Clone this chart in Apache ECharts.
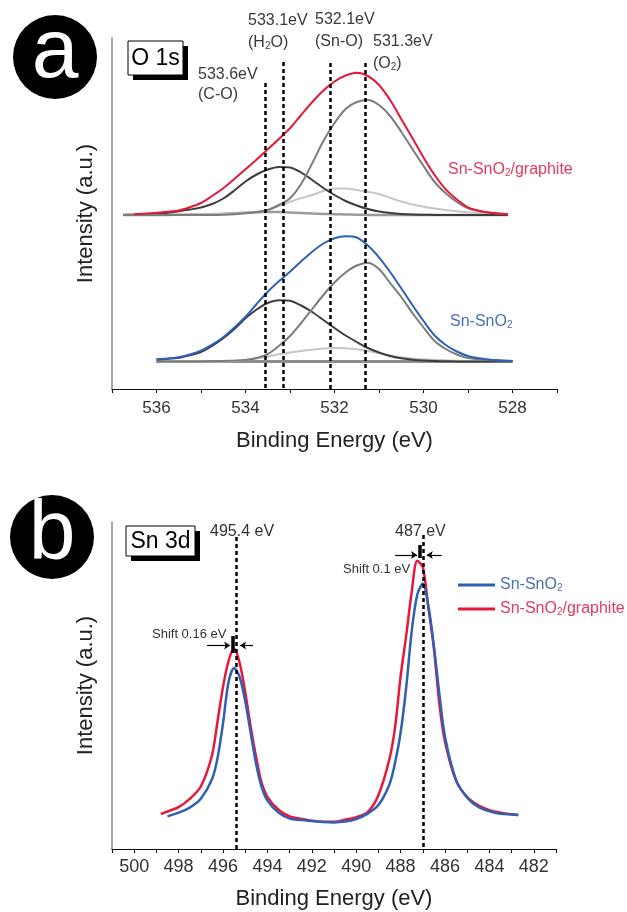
<!DOCTYPE html>
<html>
<head>
<meta charset="utf-8">
<title>XPS O 1s / Sn 3d</title>
<script src="https://cdn.jsdelivr.net/npm/echarts@6/dist/echarts.min.js"></script>
<style>
html, body { margin: 0; padding: 0; background: #fff; }
#main { width: 627px; height: 912px; }
</style>
</head>
<body>
<div id="main"></div>
<script>
// (a) O 1s - Sn-SnO2/graphite (upper set)
var energyA = [536.75, 536.5, 536.25, 536, 535.75, 535.5, 535.25, 535, 534.75, 534.5, 534.25, 534, 533.75, 533.5, 533.25, 533, 532.75, 532.5, 532.25, 532, 531.75, 531.5, 531.25, 531, 530.75, 530.5, 530.25, 530, 529.75, 529.5, 529.25, 529, 528.75, 528.5, 528.1];
var graphiteEnvelope = [null, 174.8, 175.4, 176.2, 177.2, 178.5, 181.8, 186, 193, 200.7, 210, 219.7, 229.5, 239.7, 250, 260.7, 274, 287, 298.5, 307.5, 313.5, 316.3, 313, 304, 289, 270, 251, 231.5, 214, 199.7, 189.5, 181.7, 178.3, 176.3, 174.8];
var graphiteO2 = [174, 174, 174, 174, 174, 174, 174, 174, 174.1, 174.3, 174.8, 175.7, 177, 179, 184, 190.7, 205, 225.7, 248, 266, 280, 287, 289, 284, 273, 257.3, 240, 223, 207, 195.7, 187, 180.7, 178, 176.3, 174.7];
var graphiteH2O = [174, 174.3, 174.6, 175, 176.2, 177.8, 179.5, 181.5, 185, 190.5, 198.5, 207.5, 214.5, 219.5, 222, 221.5, 216.5, 209, 201, 194, 188, 183.5, 180, 177.5, 176, 175, 174.5, 174.3, 174.1, 174, 174, 174, 174, 174, 174];
var graphiteSnO = [174.5, 174.5, 174.5, 174.5, 174.5, 174.5, 174.6, 174.7, 174.8, 175, 175.4, 176, 177.3, 179, 183, 187.3, 190.8, 194, 198, 200.5, 200.5, 199, 197.2, 195, 191.3, 187.5, 184.5, 182.3, 180.5, 179, 177.8, 176.7, 176, 175.3, 174.8];
var graphiteCO = [174, 174, 174, 174, 174.1, 174.2, 174.4, 174.6, 174.9, 175.3, 175.8, 176.3, 176.8, 177, 176.9, 176.5, 176, 175.5, 175.1, 174.8, 174.5, 174.3, 174.1, 174, 174, 174, 174, 174, 174, 174, 174, 174, 174, 174, 174];

// (a) O 1s - Sn-SnO2 (lower set)
var energyB = [536, 535.75, 535.5, 535.25, 535, 534.75, 534.5, 534.25, 534, 533.75, 533.5, 533.25, 533, 532.75, 532.5, 532.25, 532, 531.75, 531.5, 531.25, 531, 530.75, 530.5, 530.25, 530, 529.75, 529.5, 529.25, 529, 528.75, 528.5, 528.25, 528];
var pureEnvelope = [29.7, 30.5, 31.7, 34.5, 38.3, 44.3, 51.7, 61.5, 72.3, 85, 97.3, 107.8, 117.3, 127.5, 137.3, 145.5, 150.8, 152.8, 151.5, 143.5, 131.7, 117, 100.7, 84, 68, 53.5, 44, 37.5, 33, 30.8, 29.3, 28.5, 28];
var pureO2 = [27.5, 27.5, 27.5, 27.5, 27.6, 27.8, 28, 28.4, 29, 31, 35, 43, 53, 66, 80, 94, 106.5, 116.5, 123.5, 126.3, 120, 106, 92, 76, 61.5, 48, 40, 34.5, 31, 29.8, 29, 28.4, 28];
var pureH2O = [29.3, 30.2, 31.3, 33.8, 37, 43, 50.7, 60, 70.7, 79.5, 86, 88.8, 88.3, 83.5, 77, 69, 61, 53.5, 47, 41, 36.5, 33, 30.7, 29.2, 28.5, 28, 27.8, 27.6, 27.5, 27.5, 27.5, 27.5, 27.5];
var pureSnO = [27.5, 27.5, 27.5, 27.5, 27.5, 27.5, 27.6, 28, 29, 30.5, 32.5, 34.8, 36.5, 38, 39.3, 40.4, 41, 40.8, 39.8, 38, 35.8, 33.5, 31.7, 30.5, 29.7, 29.2, 28.7, 28.3, 28, 27.8, 27.6, 27.5, 27.5];
var pureBase = [27.5, 27.5, 27.5, 27.5, 27.5, 27.5, 27.5, 27.5, 27.5, 27.5, 27.5, 27.5, 27.5, 27.5, 27.5, 27.5, 27.5, 27.5, 27.5, 27.5, 27.5, 27.5, 27.5, 27.5, 27.5, 27.5, 27.5, 27.5, 27.5, 27.5, 27.5, 27.5, 27.5];

// peak positions (eV) marked in (a)
var o1sPeaks = [533.55, 533.15, 532.1, 531.3];
var o1sPeakTops = [306, 327, 326, 326];

// (b) Sn 3d
var sn3dEnergy = [498.8, 498.5, 498, 497.5, 497, 496.5, 496.25, 496, 495.75, 495.5, 495.25, 495, 494.75, 494.5, 494.25, 494, 493.5, 493, 492.5, 492, 491.5, 491, 490.5, 490, 489.5, 489, 488.5, 488.25, 488, 487.75, 487.5, 487.25, 487, 486.75, 486.5, 486.25, 486, 485.5, 485, 484.5, 484, 483.5, 483, 482.7];
var sn3dGraphite = [35, 37.5, 41.8, 50.1, 62.5, 93.3, 127, 162.1, 188, 200.5, 186, 157, 121.7, 91, 65.4, 52.2, 39.2, 32.5, 30.3, 28.2, 27.3, 27.3, 29.3, 31.8, 36.5, 53.8, 90.3, 121.6, 172.6, 213.1, 256.9, 288.2, 282, 241.6, 200.5, 144.5, 107.2, 68.1, 51.8, 43.6, 38.9, 36.3, 34.7, 34];
var sn3dPure = [null, 32.6, 36.3, 41.4, 50.3, 69.5, 90.6, 125.5, 167, 181, 172, 148, 115.6, 84.1, 61.3, 48.4, 36.4, 30.4, 29.1, 27.9, 27, 26.6, 27.4, 29.9, 35.1, 43.9, 64.8, 86.2, 116.2, 161, 217.9, 254.3, 265.5, 243.2, 202.9, 154.3, 112.3, 68.9, 51.4, 42.1, 37.8, 35.3, 34.5, 34];
var sn3dPeaks = [495.4, 487];
var sn3dPeakTops = [312, 314];

var FONT = 'Liberation Sans, Arial, sans-serif';
var RED = '#e8173a', BLUE = '#2e60b3';
var subRich = { sub: { fontSize: 10, verticalAlign: 'bottom', padding: [7, 0, 0, 0] } };

function pairs(xs, ys) {
	var out = [];
	for (var i = 0; i < xs.length; i++) {
		if (ys[i] != null) out.push([xs[i], ys[i]]);
	}
	return out;
}

function curve(name, xs, ys, color, width, idx, smooth) {
	return {
		name: name,
		type: 'line',
		xAxisIndex: idx,
		yAxisIndex: idx,
		data: pairs(xs, ys),
		smooth: smooth,
		symbol: 'none',
		silent: true,
		lineStyle: { color: color, width: width },
		itemStyle: { color: color }
	};
}

function xAxisOf(idx, min, max, fontSize, margin, nameGap) {
	return {
		type: 'value',
		gridIndex: idx,
		min: min,
		max: max,
		interval: 1,
		inverse: true,
		name: 'Binding Energy (eV)',
		nameLocation: 'middle',
		nameGap: nameGap,
		nameTextStyle: { fontSize: 22, color: '#222', fontFamily: FONT },
		axisLine: { show: true, onZero: false, lineStyle: { color: '#111', width: 1.2 } },
		axisTick: { show: true, length: 4, lineStyle: { color: '#111', width: 1 } },
		axisLabel: {
			fontSize: fontSize, color: '#333', fontFamily: FONT, margin: margin,
			formatter: function(v) { return v % 2 === 0 ? String(v) : ''; }
		},
		splitLine: { show: false }
	};
}

function yAxisOf(idx, max) {
	return {
		type: 'value',
		gridIndex: idx,
		min: 0,
		max: max,
		name: 'Intensity (a.u.)',
		nameLocation: 'middle',
		nameGap: 15,
		nameTextStyle: { fontSize: 22, color: '#222', fontFamily: FONT },
		axisLine: { show: true, lineStyle: { color: '#888', width: 1.5 } },
		axisTick: { show: false },
		axisLabel: { show: false },
		splitLine: { show: false }
	};
}

var dashStyle = { color: '#000', width: 2.5, type: [4, 3] };

var series = [
	curve('base-g', energyA, graphiteCO, '#9a9a9a', 2.5, 0, 0.3),
	curve('SnO-g', energyA, graphiteSnO, '#c6c6c6', 2, 0, 0.3),
	curve('H2O-g', energyA, graphiteH2O, '#3d3d3d', 2, 0, 0.3),
	curve('O2-g', energyA, graphiteO2, '#7c7c7c', 2, 0, 0.3),
	curve('base-p', energyB, pureBase, '#8c8c8c', 3, 0, 0),
	curve('SnO-p', energyB, pureSnO, '#c6c6c6', 2, 0, 0.3),
	curve('H2O-p', energyB, pureH2O, '#3d3d3d', 2, 0, 0.3),
	curve('O2-p', energyB, pureO2, '#7c7c7c', 2, 0, 0.3),
	curve('O1s Sn-SnO2', energyB, pureEnvelope, BLUE, 2, 0, 0.3),
	curve('O1s Sn-SnO2/graphite', energyA, graphiteEnvelope, RED, 2, 0, 0.3),
	curve('Sn-SnO2/graphite', sn3dEnergy, sn3dGraphite, RED, 2.5, 1, 0.3),
	curve('Sn-SnO2', sn3dEnergy, sn3dPure, BLUE, 2.5, 1, 0.3)
];

// dashed peak lines in (a)
series[9].markLine = {
	silent: true, symbol: 'none', label: { show: false }, lineStyle: dashStyle,
	data: o1sPeaks.map(function(e, i) { return [{ coord: [e, o1sPeakTops[i]] }, { coord: [e, 0] }]; })
};
// dashed peak lines in (b)
series[10].markLine = {
	silent: true, symbol: 'none', label: { show: false }, lineStyle: dashStyle,
	data: sn3dPeaks.map(function(e, i) { return [{ coord: [e, sn3dPeakTops[i]] }, { coord: [e, 0] }]; })
};
// shift arrows in (b)
var arrowLine = { color: '#000', width: 1.2, type: 'solid' };
var barLine = { color: '#000', width: 3.5, type: 'solid' };
series[11].markLine = {
	silent: true, symbol: ['none', 'arrow'], symbolSize: 6, label: { show: false }, lineStyle: arrowLine,
	data: [
		[{ coord: [496.72, 203.5] }, { coord: [495.68, 203.5] }],
		[{ coord: [494.65, 203.5] }, { coord: [495.23, 203.5] }],
		[{ coord: [495.57, 213], symbol: 'none', lineStyle: barLine }, { coord: [495.57, 196], symbol: 'none' }],
		[{ coord: [488.25, 294] }, { coord: [487.26, 294] }],
		[{ coord: [486.15, 294] }, { coord: [486.82, 294] }],
		[{ coord: [487.15, 304], symbol: 'none', lineStyle: barLine }, { coord: [487.15, 291], symbol: 'none' }]
	]
};

function label(x, y, text, color, size) {
	return {
		type: 'text', x: x, y: y, silent: true,
		style: {
			text: text, fill: color || '#3a3a3a', fontSize: size || 16, fontFamily: FONT,
			align: 'left', verticalAlign: 'middle', rich: subRich
		}
	};
}

function badge(cx, cy, letter, ty) {
	return [
		{ type: 'circle', shape: { cx: cx, cy: cy, r: 42 }, style: { fill: '#000' }, silent: true },
		{ type: 'text', x: cx, y: ty, silent: true,
			style: { text: letter, fill: '#fff', fontSize: 84, fontFamily: FONT, align: 'center', verticalAlign: 'middle' } }
	];
}

function box(x, y, w, h, text) {
	return [
		{ type: 'rect', shape: { x: x + 5, y: y + 5, width: w, height: h }, style: { fill: '#000' }, silent: true },
		{ type: 'rect', shape: { x: x, y: y, width: w, height: h }, style: { fill: '#fff', stroke: '#000', lineWidth: 1 }, silent: true },
		{ type: 'text', x: x + w / 2, y: y + h / 2 + 1, silent: true,
			style: { text: text, fill: '#000', fontSize: 23, fontFamily: FONT, align: 'center', verticalAlign: 'middle' } }
	];
}

var graphics = [].concat(
	badge(55, 57, 'a', 54),
	badge(52, 537, 'b', 536),
	box(128, 41, 55, 34, 'O 1s'),
	box(126, 526, 69, 30, 'Sn 3d'),
	[
		label(248, 21, '533.1eV'),
		label(248, 43, '(H{sub|2}O)'),
		label(315, 20, '532.1eV'),
		label(315, 42, '(Sn-O)'),
		label(373, 42, '531.3eV'),
		label(373, 64, '(O{sub|2})'),
		label(198, 75, '533.6eV'),
		label(198, 95, '(C-O)'),
		label(448, 170, 'Sn-SnO{sub|2}/graphite', '#e23a5c'),
		label(450, 322, 'Sn-SnO{sub|2}', '#4a6fb5'),
		label(210, 532, '495.4 eV', '#333', 16),
		label(395, 532, '487 eV', '#333', 16),
		label(152, 634, 'Shift 0.16 eV', '#333', 13),
		label(343, 569, 'Shift 0.1 eV', '#333', 13)
	]
);

var chart = echarts.init(document.getElementById('main'), null, { renderer: 'canvas' });
chart.setOption({
	animation: false,
	backgroundColor: '#fff',
	textStyle: { fontFamily: FONT },
	grid: [
		{ left: 112, right: 70, top: 38, height: 351 },
		{ left: 112, right: 71, top: 522, height: 327 }
	],
	xAxis: [
		xAxisOf(0, 527, 537, 17, 11, 41),
		xAxisOf(1, 481, 501, 18, 9, 39)
	],
	yAxis: [yAxisOf(0, 351), yAxisOf(1, 327)],
	legend: {
		orient: 'vertical',
		left: 458,
		top: 577,
		padding: 0,
		icon: 'rect',
		itemWidth: 37,
		itemHeight: 3,
		itemGap: 8,
		selectedMode: false,
		textStyle: { fontSize: 16, fontFamily: FONT, lineHeight: 16, rich: subRich },
		formatter: function(name) { return name.replace('SnO2', 'SnO{sub|2}'); },
		data: [
			{ name: 'Sn-SnO2', textStyle: { color: '#4a6fb5' } },
			{ name: 'Sn-SnO2/graphite', textStyle: { color: '#e23a5c' } }
		]
	},
	graphic: graphics,
	series: series
});
</script>
</body>
</html>
